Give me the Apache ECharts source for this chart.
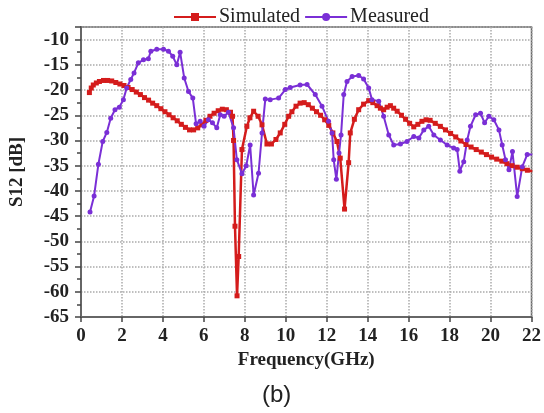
<!DOCTYPE html>
<html>
<head>
<meta charset="utf-8">
<script src="https://cdn.jsdelivr.net/npm/echarts@6/dist/echarts.min.js"></script>
<style>
  html, body { margin: 0; padding: 0; background: #fff; }
  #chart { width: 544px; height: 413px; }
</style>
</head>
<body>
<div id="chart"></div>
<script>
// Simulated S12 (GHz, dB)
var simFreq = [0.41, 0.5, 0.6, 0.75, 0.9, 1.1, 1.3, 1.5, 1.7, 1.9, 2.1, 2.3, 2.5, 2.7, 2.9, 3.1, 3.3, 3.5, 3.7, 3.9,
  4.1, 4.3, 4.5, 4.7, 4.9, 5.1, 5.3, 5.5, 5.7, 5.9, 6.1, 6.3, 6.5, 6.7, 6.9, 7.1, 7.3, 7.4,
  7.45, 7.52, 7.62, 7.7, 7.86, 8.1, 8.25, 8.43, 8.65, 8.84, 9.08, 9.3, 9.52, 9.73, 9.95, 10.14, 10.3, 10.5, 10.7, 10.9,
  11.1, 11.3, 11.5, 11.7, 11.9, 12.1, 12.3, 12.5, 12.66, 12.87,
  13.07, 13.15, 13.35, 13.56, 13.8, 14.05, 14.25, 14.46, 14.62, 14.78, 14.95, 15.11, 15.27, 15.44, 15.65, 15.85, 16.05,
  16.25, 16.45, 16.65, 16.85, 17.05, 17.3, 17.55, 17.8, 18.05, 18.3, 18.55, 18.8, 19.05, 19.3, 19.55, 19.8, 20.05, 20.3,
  20.55, 20.8, 21.05, 21.3, 21.55, 21.8, 22.04];
var simVal = [-20.5, -19.6, -19.0, -18.6, -18.3, -18.1, -18.1, -18.2, -18.5, -18.8, -19.1, -19.5, -19.9, -20.4, -20.9, -21.5, -22.0, -22.6, -23.1, -23.7,
  -24.3, -24.9, -25.5, -26.1, -26.8, -27.4, -27.9, -27.9, -27.5, -26.9, -26.0, -25.2, -24.6, -24.1, -23.8, -23.9, -24.4, -25.2,
  -30, -47, -60.8, -53, -31.8, -27.2, -25.5, -24.2, -25.2, -26.9, -30.7, -30.7, -29.8, -28.5, -26.8, -25.2, -24.3, -23.2, -22.6, -22.5,
  -22.9, -23.6, -24.3, -25.0, -25.9, -27.0, -28.5, -30.2, -33.5, -43.6,
  -34.4, -28.5, -25.8, -23.9, -22.8, -22.1, -22.5, -23.1, -23.6, -23.9, -23.4, -23.1, -23.6, -24.2, -25.0, -25.8, -26.6,
  -27.3, -26.8, -26.2, -25.9, -26.0, -26.6, -27.2, -27.9, -28.6, -29.3, -30.1, -30.8, -31.3, -31.8, -32.3, -32.8, -33.3, -33.7,
  -34.1, -34.6, -35.0, -35.3, -35.6, -35.9, -36.1];

// Measured S12 (GHz, dB)
var measFreq = [0.44, 0.64, 0.85, 1.06, 1.26, 1.45, 1.66, 1.87, 2.07, 2.23, 2.43, 2.59, 2.8, 3.05, 3.29, 3.41, 3.7, 4.03, 4.27,
  4.48, 4.68, 4.84, 5.04, 5.25, 5.46, 5.62, 5.82, 6.01, 6.22, 6.42, 6.63, 6.8, 6.99, 7.2, 7.45, 7.61, 7.86, 8.07, 8.26,
  8.43, 8.67, 8.84, 9.0, 9.24, 9.65, 9.98, 10.22, 10.7, 11.04, 11.44, 11.77, 12.09, 12.26, 12.34, 12.47, 12.6, 12.7,
  12.83, 12.99, 13.24, 13.56, 13.8, 14.05, 14.21, 14.54, 14.78, 15.03, 15.27, 15.6, 15.92, 16.25, 16.5, 16.74, 16.98,
  17.23, 17.55, 17.88, 18.2, 18.37, 18.5, 18.69, 18.86, 19.02, 19.27, 19.51, 19.71, 19.92, 20.16, 20.41, 20.57, 20.73,
  20.9, 21.07, 21.3, 21.55, 21.79, 22.04];
var measVal = [-44.2, -41.0, -34.7, -30.2, -28.4, -25.6, -23.9, -23.4, -21.9, -19.6, -17.9, -16.6, -14.6, -14.0, -13.8, -12.3, -11.9, -11.9, -12.3,
  -13.3, -15.0, -12.5, -17.6, -20.3, -21.6, -26.7, -26.2, -27.2, -25.9, -26.5, -27.5, -24.9, -25.2, -24.4, -27.5, -33.8, -36.6, -35.0, -30.9,
  -40.8, -36.5, -28.5, -21.8, -21.9, -21.6, -19.9, -19.5, -19.0, -18.9, -20.9, -23.2, -26.2, -28.5, -33.8, -37.7, -32.5, -28.9,
  -20.9, -18.3, -17.3, -17.1, -17.8, -19.6, -21.9, -22.2, -25.2, -28.9, -30.9, -30.7, -30.2, -29.2, -29.5, -27.9, -27.2,
  -28.9, -29.9, -30.9, -31.5, -31.8, -36.1, -34.2, -29.9, -27.2, -24.9, -24.6, -26.5, -25.2, -25.9, -27.9, -30.9, -33.8,
  -35.8, -32.2, -41.1, -35.2, -32.8, -32.8];

var xTicks = [0, 2, 4, 6, 8, 10, 12, 14, 16, 18, 20, 22];

function pairs(xs, ys) {
  return xs.map(function (x, i) { return [x, ys[i]]; });
}

var chart = echarts.init(document.getElementById('chart'));
var serif = '"Liberation Serif", "Times New Roman", serif';

var option = {
  backgroundColor: '#fff',
  animation: false,
  legend: {
    top: 2,
    left: 168,
    itemWidth: 42,
    itemHeight: 10,
    itemGap: 4,
    textStyle: { fontFamily: serif, fontSize: 20, color: '#222', padding: [0, 0, 0, -2] },
    data: ['Simulated', 'Measured']
  },
  grid: {
    left: 81, right: 12, top: 27, bottom: 96,
    show: true, borderColor: '#666', borderWidth: 1.5
  },
  xAxis: {
    type: 'value',
    min: 0, max: 22, interval: 2,
    name: 'Frequency(GHz)',
    nameLocation: 'middle',
    nameGap: 34,
    nameTextStyle: { fontFamily: serif, fontSize: 19, fontWeight: 'bold', color: '#222' },
    axisLine: { lineStyle: { color: '#666', width: 2 } },
    axisTick: { show: true, length: 5, lineStyle: { color: '#444', width: 1.5 } },
    axisLabel: {
      fontFamily: serif, fontSize: 19, fontWeight: 'bold', color: '#222', margin: 10,
      formatter: function (v) { return xTicks.indexOf(v) >= 0 ? String(v) : ''; }
    },
    splitLine: { show: true, lineStyle: { color: '#aaa', type: 'dotted', width: 1.5 } }
  },
  yAxis: {
    type: 'value',
    min: -65, max: -7.5, interval: 5,
    name: 'S12 [dB]',
    nameLocation: 'middle',
    nameGap: 54,
    nameTextStyle: { fontFamily: serif, fontSize: 19, fontWeight: 'bold', color: '#222' },
    axisLine: { show: true, lineStyle: { color: '#666', width: 2 } },
    axisTick: { show: true, length: 6, lineStyle: { color: '#444', width: 1.5 } },
    minorTick: { show: true, splitNumber: 2, length: 4, lineStyle: { color: '#444', width: 1.5 } },
    axisLabel: {
      fontFamily: serif, fontSize: 19, fontWeight: 'bold', color: '#222', margin: 12,
      showMaxLabel: false
    },
    splitLine: { show: true, lineStyle: { color: '#aaa', type: 'dotted', width: 1.5 } }
  },
  series: [
    {
      name: 'Simulated',
      type: 'line',
      data: pairs(simFreq, simVal),
      symbol: 'rect',
      symbolSize: 5,
      lineStyle: { color: '#d41c1c', width: 2.5 },
      itemStyle: { color: '#d41c1c' }
    },
    {
      name: 'Measured',
      type: 'line',
      data: pairs(measFreq, measVal),
      symbol: 'circle',
      symbolSize: 5,
      lineStyle: { color: '#7a2fd6', width: 2 },
      itemStyle: { color: '#7a2fd6' }
    }
  ],
  graphic: [
    {
      type: 'text',
      left: 262,
      top: 383,
      style: { text: '(b)', font: '24px "Liberation Sans", sans-serif', fill: '#222' }
    }
  ]
};

option && chart.setOption(option);
</script>
</body>
</html>
